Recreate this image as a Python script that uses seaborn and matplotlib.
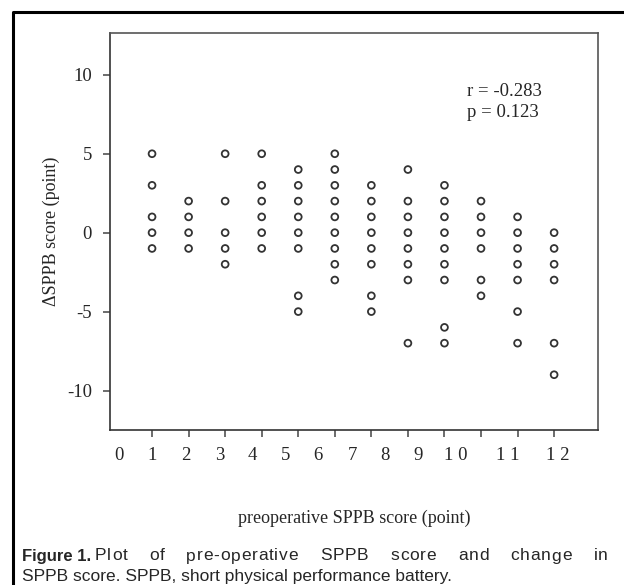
import matplotlib
matplotlib.use("Agg")
import matplotlib.pyplot as plt
from matplotlib.lines import Line2D
import pandas as pd
import seaborn as sns

# change in SPPB score (one list per preoperative score)
delta_1 = [5, 3, 1, 0, -1]
delta_2 = [2, 1, 0, -1]
delta_3 = [5, 2, 0, -1, -2]
delta_4 = [5, 3, 2, 1, 0, -1]
delta_5 = [4, 3, 2, 1, 0, -1, -4, -5]
delta_6 = [5, 4, 3, 2, 1, 0, -1, -2, -3]
delta_7 = [3, 2, 1, 0, -1, -2, -4, -5]
delta_8 = [4, 2, 1, 0, -1, -2, -3, -7]
delta_9 = [3, 2, 1, 0, -1, -2, -3, -6, -7]
delta_10 = [2, 1, 0, -1, -3, -4]
delta_11 = [1, 0, -1, -2, -3, -5, -7]
delta_12 = [0, -1, -2, -3, -7, -9]

preop_scores = list(range(1, 13))
deltas = [delta_1, delta_2, delta_3, delta_4, delta_5, delta_6,
          delta_7, delta_8, delta_9, delta_10, delta_11, delta_12]

# x tick labels as printed in the figure (the two-digit ones are spaced out)
x_tick_labels = ["0", "1", "2", "3", "4", "5", "6", "7", "8", "9", "1 0", "1 1", "1 2"]
x_label_pos = [0.1, 1.0, 1.93, 2.84, 3.74, 4.64, 5.55, 6.48, 7.38, 8.29, 9.3, 10.73, 12.1]
y_ticks = [-10, -5, 0, 5, 10]

r_text = "r = -0.283"
p_text = "p = 0.123"

rows = []
for score, vals in zip(preop_scores, deltas):
    for v in vals:
        rows.append({"preop": score, "delta": v})
df = pd.DataFrame(rows)

sns.set_style("ticks")
plt.rcParams["font.family"] = ["Liberation Serif", "DejaVu Serif"]

fig = plt.figure(figsize=(6.24, 5.85), dpi=100)
ax = fig.add_axes([0.1763, 0.265, 0.782, 0.6786])

sns.scatterplot(x="preop", y="delta", data=df, ax=ax, marker="o",
                facecolor="none", edgecolor="#333333", linewidth=1.3, s=24)

ax.set_xlim(-0.15, 13.2)
ax.set_ylim(-12.5, 12.65)

# tick marks at 1..12, labels drawn separately where the original prints them
ax.xaxis.remove_overlapping_locs = False
ax.set_xticks(preop_scores)
ax.set_xticklabels([])
ax.set_xticks(x_label_pos, x_tick_labels, minor=True)
ax.tick_params(axis="x", which="major", direction="out", length=5, width=1.1, color="#444444")
ax.tick_params(axis="x", which="minor", length=0, pad=12, labelsize=13.5)
ax.set_yticks(y_ticks)
ax.set_yticklabels([str(t) for t in y_ticks])
ax.tick_params(axis="y", direction="out", length=5, width=1.1, color="#444444", pad=8, labelsize=13.5)

for side in ["left", "bottom", "right", "top"]:
    ax.spines[side].set_visible(True)
    ax.spines[side].set_color("#555555")
    ax.spines[side].set_linewidth(1.2)
ax.spines["left"].set_color("#333333")
ax.spines["bottom"].set_color("#333333")

ax.set_xlabel("preoperative SPPB score (point)", fontsize=13, labelpad=33)
ax.set_ylabel("\u0394SPPB score (point)", fontsize=13, labelpad=5)

ax.text(9.63, 8.95, r_text, fontsize=13.5, va="center", ha="left")
ax.text(9.63, 7.6, p_text, fontsize=13.5, va="center", ha="left")

# outer frame of the figure panel
fig.add_artist(Line2D([13 / 624, 13 / 624, 1.0], [0.0, 1 - 12 / 585, 1 - 12 / 585],
                      transform=fig.transFigure, color="black", linewidth=2.2))

# caption; the first line is justified (letter and word spacing) up to the right margin
cap_font = ["Liberation Sans", "DejaVu Sans"]
fig.text(22 / 624, 1 - 557 / 585, "Figure 1.", fontsize=12, fontweight="bold",
         family=cap_font, va="center", ha="left")
fig.canvas.draw()
renderer = fig.canvas.get_renderer()


def text_width(s):
    t = fig.text(0, 0, s, fontsize=12.5, family=cap_font)
    w = t.get_window_extent(renderer).width
    t.remove()
    return w


line1_words = "Plot of pre-operative SPPB score and change in".split()
x_start, x_end = 95.0, 608.0
tracking = 0.8
word_widths = [text_width(w) + tracking * (len(w) - 1) for w in line1_words]
gap = (x_end - x_start - sum(word_widths)) / (len(line1_words) - 1)
x = x_start
for word, ww in zip(line1_words, word_widths):
    for i, ch in enumerate(word):
        cx = x + (text_width(word[:i]) if i else 0) + tracking * i
        fig.text(cx / 624, 1 - 556 / 585, ch, fontsize=12.5, family=cap_font, va="center", ha="left")
    x += ww + gap
fig.text(22 / 624, 1 - 576 / 585, "SPPB score. SPPB, short physical performance battery.",
         fontsize=12.5, family=cap_font, va="center", ha="left")

fig.savefig("out.png", dpi=100)
